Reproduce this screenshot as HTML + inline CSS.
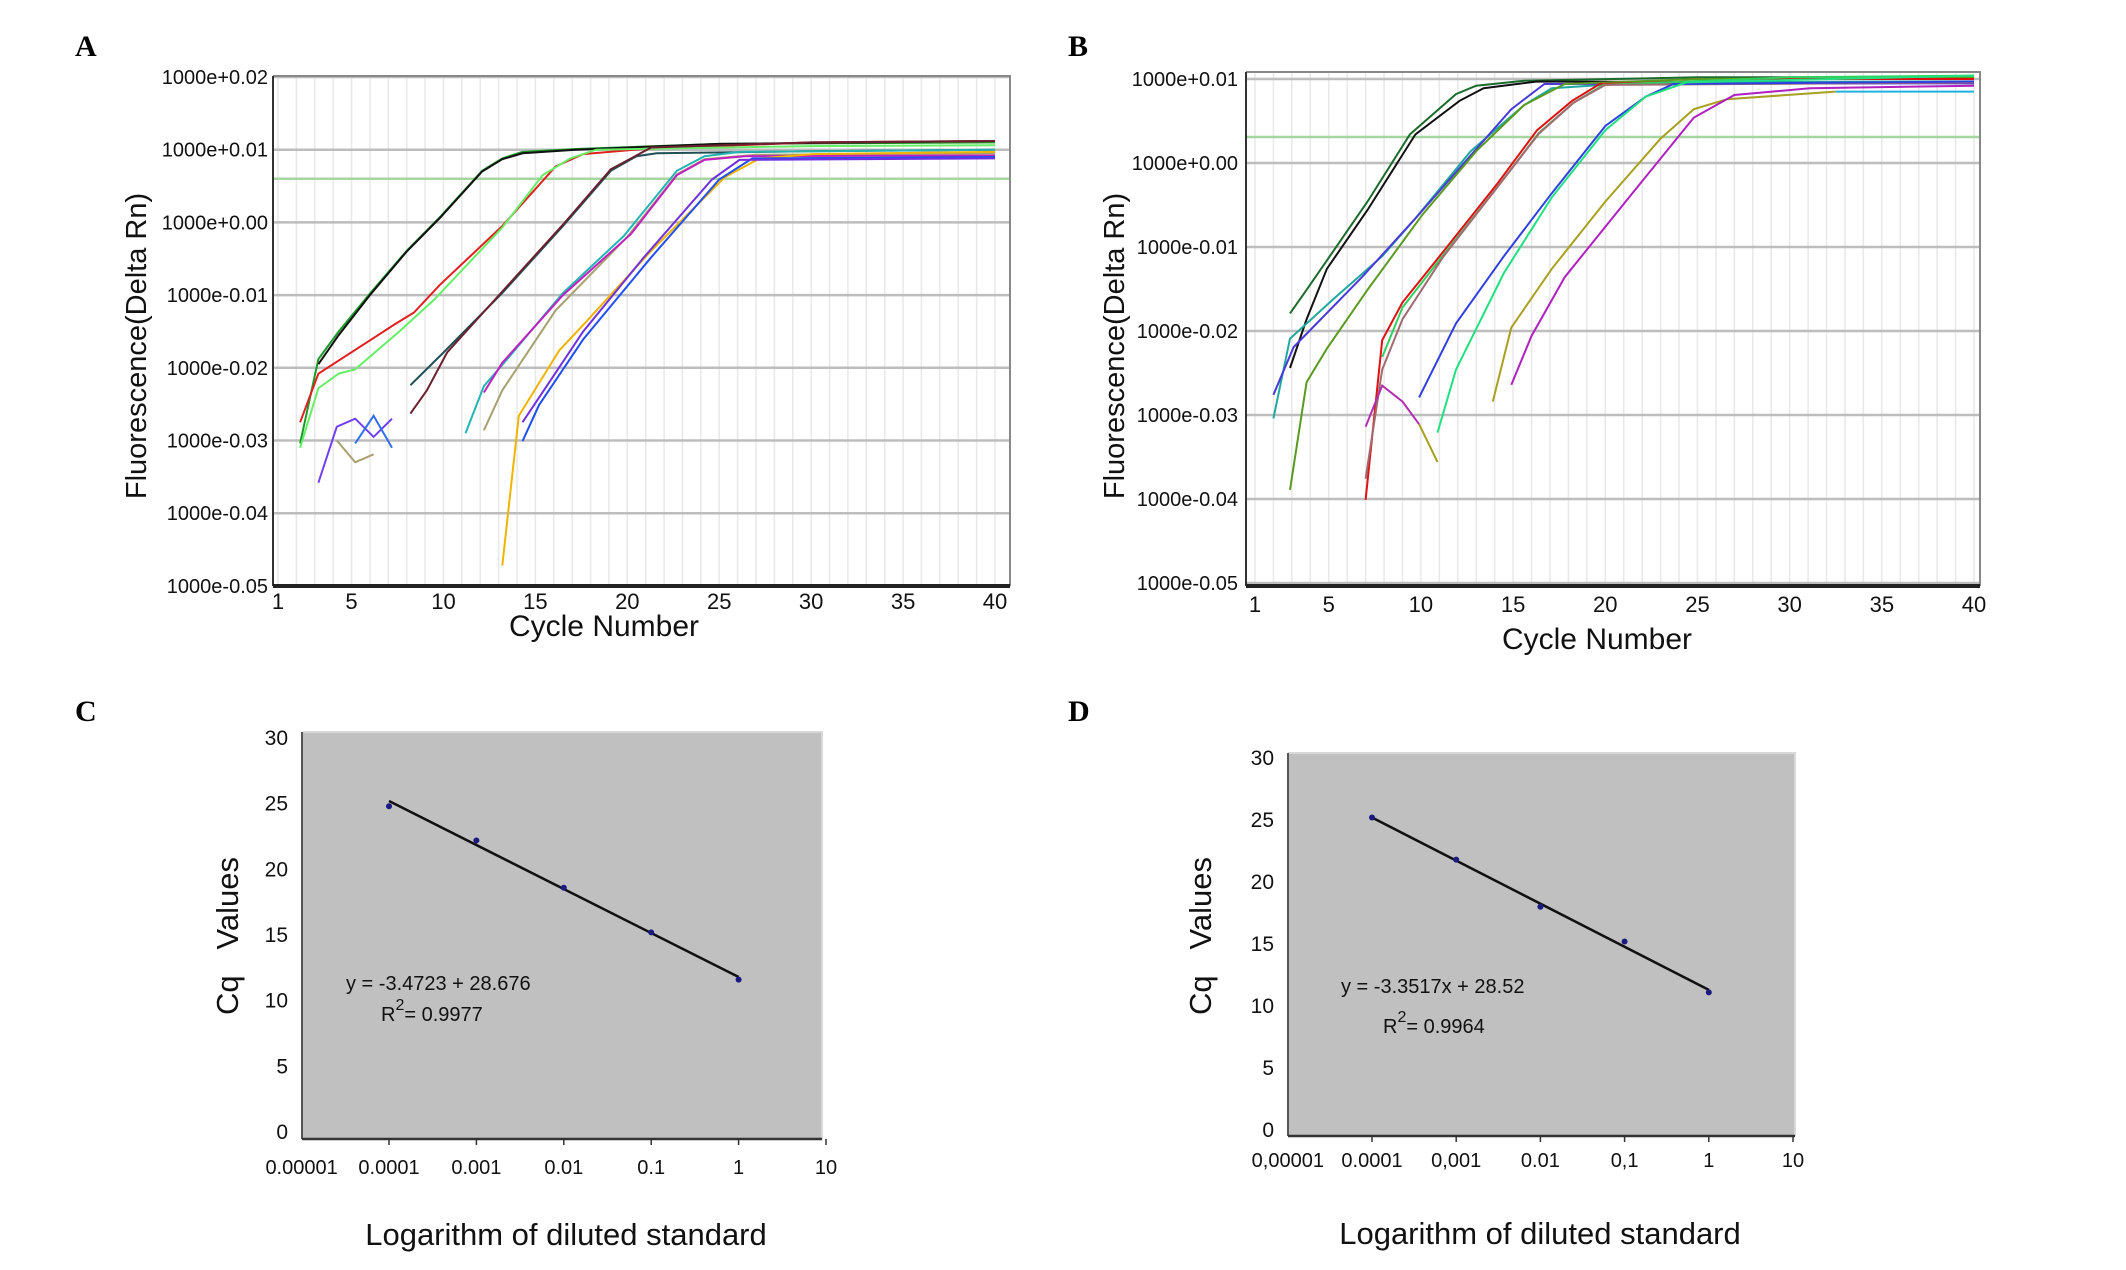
<!DOCTYPE html>
<html><head><meta charset="utf-8">
<style>
html,body{margin:0;padding:0;background:#fff;}
svg{display:block;}
.n{font-family:"Liberation Sans Narrow","Liberation Sans",sans-serif;}
.s{font-family:"Liberation Sans",sans-serif;}
.l{font-family:"Liberation Serif",serif;font-weight:bold;}
</style></head>
<body>
<svg id="fig" width="2126" height="1270" viewBox="0 0 2126 1270" xmlns="http://www.w3.org/2000/svg">
<rect width="2126" height="1270" fill="#fff"/>
<text class="l" x="75" y="56" font-size="30">A</text>
<text class="l" x="1068" y="56" font-size="30">B</text>
<text class="l" x="75" y="721" font-size="30">C</text>
<text class="l" x="1068" y="721" font-size="30">D</text>
<g id="pa"></g>
<g id="pb"></g>
<g id="pc"></g>
<g id="pd"></g>
</svg>
<script>
// ---------- Panel A data (cycle, log-exponent in units of 0.01) ----------
const cyclesTicks = [1,5,10,15,20,25,30,35,40];
const aYTickLabels = ["1000e+0.02","1000e+0.01","1000e+0.00","1000e-0.01","1000e-0.02","1000e-0.03","1000e-0.04","1000e-0.05"];
const aYTickValues = [2,1,0,-1,-2,-3,-4,-5];
const aThreshold = 0.60;
const aColors = ["#1a9a2a","#111111","#e02020","#66ee66","#1f4f55","#6b2030","#22b3b3","#a8a070","#c020c0","#f0b400","#2050f0","#7030e0","#7040f0","#3070f0","#a8a070"];
const aCurves = [
 [[2.2,-3.04],[3.2,-1.88],[4.3,-1.5],[6,-0.98],[8,-0.39],[9.8,0.07],[12.1,0.71],[13.2,0.88],[14.3,0.97],[17.2,1.01],[25,1.08],[40,1.1]],
 [[3.2,-1.95],[4.3,-1.55],[6,-1.0],[8,-0.4],[9.8,0.06],[12.1,0.7],[13.2,0.87],[14.3,0.95],[17.2,1.0],[25,1.08],[40,1.12]],
 [[2.2,-2.75],[3.2,-2.08],[7.3,-1.41],[8.4,-1.24],[9.8,-0.86],[13.2,-0.05],[16.1,0.77],[17.6,0.94],[20.9,1.01],[30,1.1],[40,1.12]],
 [[2.2,-3.1],[3.2,-2.28],[4.3,-2.08],[5.2,-2.02],[7.6,-1.5],[9.5,-1.06],[13.2,-0.07],[15.4,0.65],[16.9,0.88],[18.3,1.0],[30,1.05],[40,1.06]],
 [[8.2,-2.24],[10,-1.79],[13.2,-0.97],[16.5,-0.05],[19.1,0.71],[20.5,0.91],[21.6,0.95],[30,0.98],[40,1.0]],
 [[8.2,-2.63],[9.1,-2.31],[10.2,-1.79],[13.2,-0.95],[16.5,-0.03],[19.1,0.73],[21.3,1.03],[30,1.1],[40,1.12]],
 [[11.2,-2.9],[12.2,-2.25],[13.2,-1.96],[16.5,-0.97],[19.8,-0.19],[22.7,0.71],[24.2,0.91],[26.1,0.97],[40,1.0]],
 [[12.2,-2.86],[13.2,-2.31],[16.1,-1.21],[20,-0.2],[22.7,0.66],[24.2,0.87],[27,0.93],[40,0.95]],
 [[12.2,-2.34],[13.2,-1.93],[16.5,-1.0],[20.2,-0.16],[22.7,0.65],[24.2,0.86],[26.4,0.91],[40,0.92]],
 [[13.2,-4.72],[14.1,-2.66],[16.3,-1.76],[17.6,-1.41],[21.3,-0.39],[25.3,0.62],[27.2,0.88],[30.1,0.94],[40,0.97]],
 [[14.3,-3.01],[15.2,-2.51],[17.6,-1.61],[21.3,-0.48],[25,0.59],[26.8,0.88],[40,0.9]],
 [[14.3,-2.75],[17.6,-1.5],[20.9,-0.48],[24.6,0.59],[26.1,0.86],[40,0.88]],
 [[3.2,-3.58],[4.2,-2.81],[5.2,-2.7],[6.2,-2.95],[7.2,-2.7]],
 [[5.2,-3.04],[6.2,-2.66],[7.2,-3.1]],
 [[4.2,-3.0],[5.2,-3.3],[6.2,-3.19]]
];
// ---------- Panel B data ----------
const bYTickLabels = ["1000e+0.01","1000e+0.00","1000e-0.01","1000e-0.02","1000e-0.03","1000e-0.04","1000e-0.05"];
const bYTickValues = [1,0,-1,-2,-3,-4,-5];
const bThreshold = 0.31;
const bCurves = [
 [[2.9,-1.79],[3.8,-1.51],[4.9,-1.16],[7.1,-0.46],[9.4,0.34],[11.9,0.82],[13,0.92],[15.6,0.98],[25,1.02],[40,1.02]],
 [[2.9,-2.44],[3.8,-1.86],[4.9,-1.26],[7.1,-0.56],[9.7,0.34],[12.1,0.74],[13.4,0.89],[16.3,0.97],[40,0.95]],
 [[2.0,-3.04],[2.9,-2.09],[5.3,-1.61],[7.9,-1.11],[9.7,-0.66],[12.7,0.14],[15.6,0.69],[17.1,0.89],[22,0.96],[40,0.97]],
 [[2.0,-2.76],[3.1,-2.19],[6.8,-1.36],[9.7,-0.66],[12.7,0.09],[14.9,0.64],[16.7,0.94],[40,0.95]],
 [[2.9,-3.89],[3.8,-2.61],[4.9,-2.21],[7.1,-1.51],[10.1,-0.61],[13,0.14],[15.6,0.69],[17.8,0.94],[25,1.0],[40,1.02]],
 [[7.0,-4.01],[7.9,-2.11],[9,-1.66],[11.2,-1.06],[14.1,-0.26],[16.3,0.39],[18.2,0.74],[19.7,0.94],[30,1.0],[40,1.0]],
 [[7.9,-2.31],[9,-1.72],[11.2,-1.1],[14.1,-0.3],[16.4,0.36],[18.3,0.72],[19.9,0.93],[30,1.02],[40,1.04]],
 [[7.0,-3.76],[7.9,-2.46],[9,-1.86],[11.2,-1.12],[14.1,-0.3],[16.4,0.35],[18.3,0.72],[20,0.93],[40,0.96]],
 [[7.0,-3.14],[7.9,-2.65],[9,-2.84],[9.9,-3.11]],
 [[9.9,-2.79],[11.9,-1.91],[14.5,-1.11],[17.1,-0.36],[20,0.44],[22.2,0.79],[23.7,0.94],[40,0.97]],
 [[10.9,-3.21],[11.9,-2.46],[14.5,-1.31],[17.1,-0.41],[20,0.39],[22.2,0.79],[24.4,0.96],[40,1.04]],
 [[9.9,-3.11],[10.9,-3.56]],
 [[13.9,-2.84],[14.9,-1.96],[17.1,-1.26],[20,-0.46],[23,0.29],[24.8,0.64],[26.6,0.76],[32.5,0.85]],
 [[14.9,-2.64],[16,-2.06],[17.8,-1.36],[21.1,-0.46],[24.8,0.54],[27,0.81],[31.1,0.89],[40,0.92]],
 [[32.5,0.85],[40,0.85]]
];
const bCurveColors = ["#1c6a2c","#111111","#20a8a0","#4a3ad8","#5a9a20","#e01010","#30d060","#a06a70","#b030b0","#3040e0","#20e080","#a8a020","#a8a020","#b020c0","#20b0e0"];
// ---------- Panel C / D data ----------
const dilutions = [0.0001,0.001,0.01,0.1,1];
const cCq = [24.8,22.2,18.6,15.2,11.6];
const dCq = [25.2,21.8,18.0,15.2,11.1];
const cFit = [25.2,11.8];
const dFit = [25.2,11.3];
const cXTickLabels = ["0.00001","0.0001","0.001","0.01","0.1","1","10"];
const dXTickLabels = ["0,00001","0.0001","0,001","0.01","0,1","1","10"];
const xTickValues = [0.00001,0.0001,0.001,0.01,0.1,1,10];
const cqTicks = [0,5,10,15,20,25,30];

const NS="http://www.w3.org/2000/svg";
function mk(parent,tag,attrs,text){const e=document.createElementNS(NS,tag);for(const k in attrs)e.setAttribute(k,attrs[k]);if(text!==undefined)e.textContent=text;parent.appendChild(e);return e;}

function amp(gid,geo,yVals,yLabels,thr,curves,colors,pref){
  const g=document.getElementById(gid);
  const sx=c=>geo.x1+(c-1)*(geo.x40-geo.x1)/39;
  const sy=u=>geo.yTop+(geo.uTop-u)*geo.dec;
  for(let c=1;c<=40;c++){const v=mk(g,'line',{x1:sx(c),x2:sx(c),y1:geo.top,y2:geo.bottom,stroke:'#e8e8e8','stroke-width':1.5});
    
    }
  yVals.forEach((u,i)=>{
    const y=sy(u);
    const l=mk(g,'line',{x1:geo.left,x2:geo.right,y1:y,y2:y,stroke:'#bdbdbd','stroke-width':2.5});
    
    
    const t=mk(g,'text',{x:geo.labelX,y:y+7,'text-anchor':'end','font-size':20,class:'n',fill:'#111'},yLabels[i]);
    
    
  });
  const th=mk(g,'line',{x1:geo.left,x2:geo.right,y1:sy(thr),y2:sy(thr),stroke:'#a6d6a0','stroke-width':2.5});
  
  
  curves.forEach((pts,i)=>{
    const d=pts.map((p,j)=>(j?'L':'M')+sx(p[0]).toFixed(1)+','+sy(p[1]).toFixed(1)).join(' ');
    const p=mk(g,'path',{d:d,fill:'none',stroke:colors[i%colors.length],'stroke-width':2});
    
    
  });
  const fr=mk(g,'path',{d:`M${geo.left},${geo.top} L${geo.right},${geo.top} L${geo.right},${geo.bottom}`,fill:'none',stroke:'#888','stroke-width':2});
  
  
  const ax=mk(g,'line',{x1:geo.left,x2:geo.left,y1:geo.top,y2:geo.bottom,stroke:'#333','stroke-width':2});
  
  
  const bx=mk(g,'line',{x1:geo.left,x2:geo.right,y1:geo.bottom,y2:geo.bottom,stroke:'#222','stroke-width':4});
  
  
  cyclesTicks.forEach(c=>{
    const t=mk(g,'text',{x:sx(c),y:geo.tickY,'text-anchor':'middle','font-size':22,class:'n',fill:'#111'},String(c));
    
    
  });
  const xt=mk(g,'text',{x:geo.xTitleX,y:geo.xTitleY,'text-anchor':'middle','font-size':30,class:'n',fill:'#111'},'Cycle Number');
  
  
  const yt=mk(g,'text',{x:0,y:0,transform:`translate(${geo.yTitleX},${geo.yTitleY}) rotate(-90)`,'text-anchor':'middle','font-size':29,class:'s',fill:'#111'},'Fluorescence(Delta Rn)');
  
  
}

amp('pa',{left:273,right:1010,top:76,bottom:586,x1:278,x40:995,yTop:77,uTop:2,dec:72.7,labelX:268,tickY:609,xTitleX:604,xTitleY:636,yTitleX:146,yTitleY:346},
  aYTickValues,aYTickLabels,aThreshold,aCurves,aColors,'a');
amp('pb',{left:1246,right:1980,top:72,bottom:586,x1:1255,x40:1974,yTop:79,uTop:1,dec:84,labelX:1238,tickY:612,xTitleX:1597,xTitleY:649,yTitleX:1124,yTitleY:346},
  bYTickValues,bYTickLabels,bThreshold,bCurves,bCurveColors,'b');

function std(gid,geo,cq,fit,xLabels,eq,r2,pref){
  const g=document.getElementById(gid);
  const sx=v=>geo.xRef+Math.log10(v/0.0001)*geo.decX;
  const sy=v=>geo.y0-(v)*(geo.y0-geo.y30)/30;
  const bg=mk(g,'rect',{x:geo.left,y:geo.top,width:geo.right-geo.left,height:geo.bottom-geo.top,fill:'#c0c0c0'});
  
  
  const fr=mk(g,'path',{d:`M${geo.left},${geo.top} L${geo.right},${geo.top} L${geo.right},${geo.bottom}`,fill:'none',stroke:'#d8d8d8','stroke-width':2});
  
  
  const ya=mk(g,'line',{x1:geo.left,x2:geo.left,y1:geo.top,y2:geo.bottom,stroke:'#555','stroke-width':2});
  
  
  const xa=mk(g,'line',{x1:geo.left,x2:geo.right,y1:geo.bottom,y2:geo.bottom,stroke:'#333','stroke-width':2.5});
  
  
  cqTicks.forEach(v=>{
    const t=mk(g,'text',{x:geo.left-14,y:sy(v)+7,'text-anchor':'end','font-size':21,class:'n',fill:'#111'},String(v));
    
    
  });
  xTickValues.forEach((v,i)=>{
    const x=sx(v);
    if(i>0){const tk=mk(g,'line',{x1:x,x2:x,y1:geo.bottom,y2:geo.bottom+6,stroke:'#333','stroke-width':1.5});
      
      }
    const t=mk(g,'text',{x:x,y:geo.tickY,'text-anchor':'middle','font-size':20,class:'n',fill:'#111'},xLabels[i]);
    
    
  });
  const fl=mk(g,'line',{x1:sx(dilutions[0]),y1:sy(fit[0]),x2:sx(dilutions[dilutions.length-1]),y2:sy(fit[1]),stroke:'#111','stroke-width':2.5});
  
  
  dilutions.forEach((d,i)=>{
    const c=mk(g,'circle',{cx:sx(d),cy:sy(cq[i]),r:3,fill:'#1a1a80'});
    
    
  });
  const e=mk(g,'text',{x:geo.eqX,y:geo.eqY,'font-size':20,class:'n',fill:'#111'},eq);
  
  
  const r=mk(g,'text',{x:geo.r2X,y:geo.r2Y,'font-size':20,class:'n',fill:'#111'});
  
  
  r.innerHTML='R<tspan dy="-11" font-size="16">2</tspan><tspan dy="11">'+r2+'</tspan>';
  const xt=mk(g,'text',{x:geo.xTitleX,y:geo.xTitleY,'text-anchor':'middle','font-size':31,class:'n',fill:'#111'},'Logarithm of diluted standard');
  
  
  const yt=mk(g,'text',{x:0,y:0,transform:`translate(${geo.yTitleX},${geo.yTitleY}) rotate(-90)`,'text-anchor':'middle','font-size':31,class:'s',fill:'#111'},'Cq\u00a0\u00a0\u00a0Values');
  
  
}
std('pc',{left:302,right:822,top:732,bottom:1139,xRef:389,decX:87.4,y0:1132,y30:738,tickY:1174,eqX:346,eqY:990,r2X:381,r2Y:1021,xTitleX:566,xTitleY:1245,yTitleX:238,yTitleY:936},
  cCq,cFit,cXTickLabels,'y = -3.4723 + 28.676','= 0.9977','c');
std('pd',{left:1288,right:1795,top:753,bottom:1136,xRef:1372,decX:84.2,y0:1130,y30:758,tickY:1167,eqX:1341,eqY:993,r2X:1383,r2Y:1033,xTitleX:1540,xTitleY:1244,yTitleX:1211,yTitleY:936},
  dCq,dFit,dXTickLabels,'y = -3.3517x + 28.52','= 0.9964','d');
</script>
</body></html>
